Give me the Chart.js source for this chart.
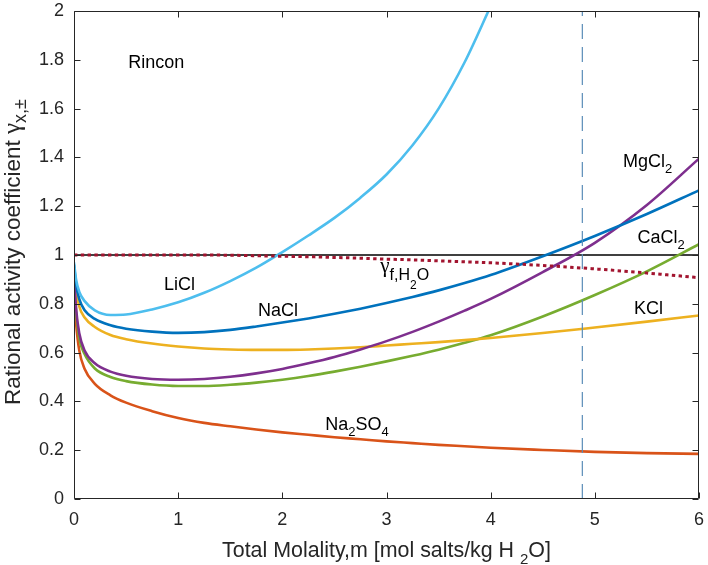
<!DOCTYPE html>
<html>
<head>
<meta charset="utf-8">
<script src="https://cdn.jsdelivr.net/npm/chart.js@4.4.1/dist/chart.umd.min.js"></script>
<style>
  html, body { margin: 0; padding: 0; background: #fff; }
</style>
</head>
<body>
<canvas id="chart" width="708" height="565"></canvas>
<script>
// Rational activity coefficients of single-salt brines vs. total molality

const molality = [0, 0.02, 0.05, 0.1, 0.2, 0.35, 0.5, 0.75, 1, 1.25, 1.5, 1.75, 2, 2.25, 2.5, 2.75, 3, 3.25, 3.5, 3.75, 4, 4.5, 5, 5.5, 6];

const gammaLiCl   = [0.97, 0.9, 0.85, 0.812, 0.773, 0.754, 0.756, 0.777, 0.806, 0.845, 0.893, 0.948, 1.012, 1.08, 1.152, 1.235, 1.33, 1.45, 1.6, 1.79, 2.02, null, null, null, null];
const gammaNaCl   = [0.96, 0.88, 0.82, 0.775, 0.738, 0.712, 0.698, 0.686, 0.681, 0.684, 0.693, 0.707, 0.723, 0.74, 0.759, 0.78, 0.803, 0.828, 0.855, 0.885, 0.918, 0.995, 1.078, 1.168, 1.265];
const gammaKCl    = [0.95, 0.86, 0.79, 0.745, 0.705, 0.672, 0.655, 0.637, 0.625, 0.617, 0.613, 0.611, 0.611, 0.613, 0.617, 0.622, 0.629, 0.636, 0.643, 0.651, 0.66, 0.68, 0.703, 0.727, 0.752];
const gammaMgCl2  = [0.92, 0.78, 0.68, 0.61, 0.556, 0.522, 0.505, 0.492, 0.489, 0.492, 0.501, 0.515, 0.533, 0.556, 0.582, 0.613, 0.647, 0.685, 0.727, 0.772, 0.82, 0.93, 1.05, 1.205, 1.395];
const gammaCaCl2  = [0.92, 0.77, 0.66, 0.595, 0.535, 0.5, 0.483, 0.469, 0.463, 0.463, 0.468, 0.477, 0.489, 0.504, 0.522, 0.542, 0.564, 0.587, 0.612, 0.64, 0.671, 0.748, 0.836, 0.933, 1.044];
const gammaNa2SO4 = [0.85, 0.72, 0.61, 0.535, 0.472, 0.425, 0.395, 0.36, 0.332, 0.312, 0.298, 0.285, 0.273, 0.263, 0.253, 0.245, 0.236, 0.229, 0.222, 0.216, 0.21, 0.201, 0.193, 0.188, 0.185];
const gammaWater  = [1, 1, 1, 1, 1, 1, 1, 1, 1, 1, 0.999, 0.997, 0.995, 0.993, 0.99, 0.987, 0.983, 0.98, 0.976, 0.972, 0.968, 0.957, 0.943, 0.926, 0.907];

const unityX = [0, 6];
const unityY = [1, 1];
const limitX = [4.88, 4.88];
const limitY = [0, 2];

const xTicks = [0, 1, 2, 3, 4, 5, 6];
const yTicks = [0, 0.2, 0.4, 0.6, 0.8, 1, 1.2, 1.4, 1.6, 1.8, 2];

const SANS = '"Liberation Sans", Arial, Helvetica, sans-serif';
const SERIF = '"Liberation Serif", "DejaVu Serif", serif';
const INK = '#262626';

function pts(xs, ys) {
  return xs.map((x, i) => ({ x: x, y: ys[i] }));
}

function curve(label, ys, color, order) {
  return {
    label: label,
    data: pts(molality, ys),
    borderColor: color,
    borderWidth: 2.6,
    pointRadius: 0,
    cubicInterpolationMode: 'monotone',
    spanGaps: false,
    order: order
  };
}

// text pieces: normal, subscript, greek, and the bigger pieces used in axis titles
const t   = (s) => ({ text: s, font: '18px ' + SANS, dy: 0 });
const sb  = (s) => ({ text: s, font: '13px ' + SANS, dy: 6 });
const g   = (s) => ({ text: s, font: '21px ' + SERIF, dy: 0 });
const sbL = (s) => ({ text: s, font: '16px ' + SANS, dy: 8 });
const sb2 = (s) => ({ text: s, font: '12px ' + SANS, dy: 17 });
const T   = (s, px) => ({ text: s, font: px + 'px ' + SANS, dy: 0 });

const curveLabels = [
  { parts: [t('Rincon')], x: 0.52, y: 1.766 },
  { parts: [t('LiCl')], x: 0.864, y: 0.857 },
  { parts: [t('NaCl')], x: 1.766, y: 0.75 },
  { parts: [g('γ'), sbL('f,H'), sb2('2'), sbL('O')], x: 2.94, y: 0.93 },
  { parts: [t('MgCl'), sb('2')], x: 5.27, y: 1.36 },
  { parts: [t('CaCl'), sb('2')], x: 5.41, y: 1.05 },
  { parts: [t('KCl')], x: 5.375, y: 0.758 },
  { parts: [t('Na'), sb('2'), t('SO'), sb('4')], x: 2.413, y: 0.283 }
];

function drawRich(ctx, parts, x, y, align) {
  const widths = parts.map((p) => { ctx.font = p.font; return ctx.measureText(p.text).width; });
  const total = widths.reduce((a, b) => a + b, 0);
  let cx = align === 'center' ? x - total / 2 : x;
  parts.forEach((p, i) => {
    ctx.font = p.font;
    ctx.fillText(p.text, cx, y + p.dy);
    cx += widths[i];
  });
}

// box around the plot with inward ticks on all four sides, plus the text
const axesBox = {
  id: 'axesBox',
  afterDatasetsDraw(chart) {
    const { ctx, chartArea: a, scales } = chart;
    const L = Math.round(a.left) + 0.5, R = Math.round(a.right) - 0.5;
    const T = Math.round(a.top) + 0.5, B = Math.round(a.bottom) - 0.5;
    const len = 6;
    ctx.save();
    ctx.strokeStyle = INK;
    ctx.lineWidth = 1;
    ctx.beginPath();
    ctx.rect(L, T, R - L, B - T);
    xTicks.forEach((v) => {
      const px = Math.round(scales.x.getPixelForValue(v)) + 0.5;
      ctx.moveTo(px, B); ctx.lineTo(px, B - len);
      ctx.moveTo(px, T); ctx.lineTo(px, T + len);
    });
    yTicks.forEach((v) => {
      const py = Math.round(scales.y.getPixelForValue(v)) + 0.5;
      ctx.moveTo(L, py); ctx.lineTo(L + len, py);
      ctx.moveTo(R, py); ctx.lineTo(R - len, py);
    });
    ctx.stroke();
    ctx.restore();
  },
  afterDraw(chart) {
    const { ctx, chartArea: a, scales } = chart;
    ctx.save();
    ctx.textBaseline = 'alphabetic';

    ctx.fillStyle = '#000';
    curveLabels.forEach((lb) => {
      drawRich(ctx, lb.parts, scales.x.getPixelForValue(lb.x), scales.y.getPixelForValue(lb.y), 'left');
    });

    ctx.fillStyle = INK;
    drawRich(ctx, [T('Total Molality,m [mol salts/kg H ', 21.4), { text: '2', font: '15px ' + SANS, dy: 7 }, T('O]', 21.4)],
      (a.left + a.right) / 2, 557, 'center');

    ctx.translate(20, 405);
    ctx.rotate(-Math.PI / 2);
    drawRich(ctx, [
      T('Rational activity coefficient ', 22.5),
      { text: 'γ', font: '25px ' + SERIF, dy: 0 },
      { text: 'x,±', font: '18px ' + SANS, dy: 6 }
    ], 0, 0, 'left');
    ctx.restore();
  }
};

const tickText = (v) => String(Math.round(v * 10) / 10);

new Chart(document.getElementById('chart'), {
  type: 'line',
  data: {
    datasets: [
      curve('LiCl', gammaLiCl, '#4DBEEE', 3),
      curve('NaCl', gammaNaCl, '#0072BD', 4),
      curve('KCl', gammaKCl, '#EDB120', 6),
      curve('MgCl2', gammaMgCl2, '#7E2F8E', 5),
      curve('CaCl2', gammaCaCl2, '#77AC30', 7),
      curve('Na2SO4', gammaNa2SO4, '#D95319', 8),
      {
        label: 'water',
        data: pts(molality, gammaWater),
        borderColor: '#A2142F',
        borderWidth: 3,
        borderDash: [3.4, 3.4],
        pointRadius: 0,
        cubicInterpolationMode: 'monotone',
        order: 2
      },
      {
        label: 'unity',
        data: pts(unityX, unityY),
        borderColor: '#000',
        borderWidth: 1.3,
        pointRadius: 0,
        order: 9
      },
      {
        label: 'limit',
        data: pts(limitX, limitY),
        borderColor: '#5b8db8',
        borderWidth: 1.2,
        borderDash: [15, 8],
        pointRadius: 0,
        order: 1
      }
    ]
  },
  options: {
    responsive: false,
    animation: false,
    layout: { padding: { top: 11, right: 9, bottom: 0, left: 0 } },
    plugins: { legend: { display: false }, tooltip: { enabled: false } },
    scales: {
      x: {
        type: 'linear',
        min: 0,
        max: 6,
        afterBuildTicks: (s) => { s.ticks = xTicks.map((v) => ({ value: v })); },
        afterFit: (s) => { s.height = 66; s.paddingLeft = 0; s.paddingRight = 0; },
        grid: { display: false, drawTicks: false },
        border: { display: false },
        ticks: { color: INK, padding: 10, font: { family: SANS, size: 18 }, maxRotation: 0, callback: tickText }
      },
      y: {
        type: 'linear',
        min: 0,
        max: 2,
        afterBuildTicks: (s) => { s.ticks = yTicks.map((v) => ({ value: v })); },
        afterFit: (s) => { s.width = 74; s.paddingTop = 0; s.paddingBottom = 0; },
        grid: { display: false, drawTicks: false },
        border: { display: false },
        ticks: { color: INK, padding: 10, font: { family: SANS, size: 18 }, callback: tickText }
      }
    }
  },
  plugins: [axesBox]
});
</script>
</body>
</html>
